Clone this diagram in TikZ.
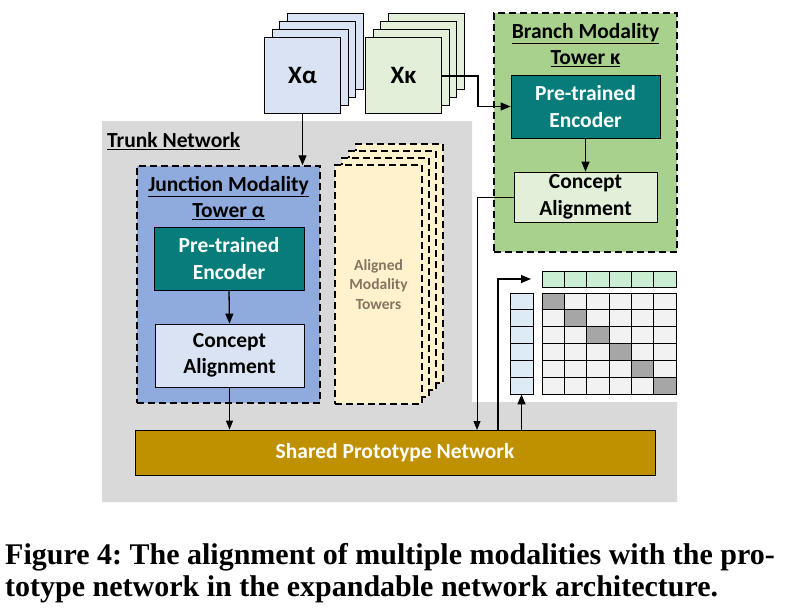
\documentclass[tikz,border=0pt]{standalone}
\usepackage{fontspec}
\setmainfont{Carlito}
\newfontfamily\capfont{Liberation Serif}
\usetikzlibrary{arrows.meta}
\definecolor{trunkgray}{HTML}{D9D9D9}
\definecolor{branchgreen}{HTML}{A9D18E}
\definecolor{teal}{HTML}{067D7B}
\definecolor{lightgreen}{HTML}{E2F0D9}
\definecolor{juncblue}{HTML}{8FAADC}
\definecolor{lightblue}{HTML}{DAE3F3}
\definecolor{paleyellow}{HTML}{FFF2CC}
\definecolor{gold}{HTML}{BF9000}
\definecolor{diagcell}{HTML}{A6A6A6}
\definecolor{plaincell}{HTML}{F2F2F2}
\definecolor{rowgreen}{HTML}{C9EED2}
\definecolor{colblue}{HTML}{DDEBF7}
\definecolor{towertext}{HTML}{857560}
\tikzset{
  box/.style={draw=black, line width=0.8pt, inner sep=0pt, align=center,
    font=\fontsize{21.5}{26.5}\selectfont\bfseries},
  tower/.style={draw=black, line width=1.5pt, dash pattern=on 7pt off 4pt, inner sep=0pt},
  ttl/.style={align=center, inner sep=0pt, font=\fontsize{21.5}{26.5}\selectfont\bfseries},
  stackbox/.style={draw=black, line width=1pt, inner sep=0pt, minimum width=76pt, minimum height=76pt,
    font=\fontsize{25}{26}\selectfont\bfseries},
  cellst/.style={draw=black, line width=0.8pt, inner sep=0pt, minimum width=22.33pt, minimum height=16.83pt},
  arr/.style={line width=1.3pt, -{Triangle[length=10pt,width=8pt]}},
  sarr/.style={line width=1pt, -{Triangle[length=9pt,width=7pt]}},
  ln/.style={line width=1pt},
}
\begin{document}
\begin{tikzpicture}[x=1pt,y=-1pt]
\useasboundingbox (0,0) rectangle (787,613);
\fill[white] (0,0) rectangle (787,613);

% trunk network region
\fill[trunkgray] (102,121) -- (472,121) -- (472,402) -- (677,402) -- (677,502) -- (102,502) -- cycle;
\node[anchor=west, ttl] (trunk) at (107,141) {\underline{Trunk Network}};

% input stacks
\foreach \k in {3,2,1} {
  \node[stackbox, fill=lightblue] (xa\k) at ({302.5+7.5*\k},{75-8*\k}) {};
  \node[stackbox, fill=lightgreen] (xk\k) at ({403.5+7.5*\k},{75-8*\k}) {};
}
\node[stackbox, fill=lightblue] (xa) at (302.5,75) {Xα};
\node[stackbox, fill=lightgreen] (xk) at (403.5,75) {Xκ};

% branch modality tower
\node[tower, fill=branchgreen, minimum width=183pt, minimum height=239pt] (bt) at (585.5,132.5) {};
\node[ttl] (btt) at (585.5,45) {\underline{Branch Modality}\\\underline{Tower κ}};
\node[box, fill=teal, text=white, minimum width=149pt, minimum height=63pt] (encK) at (585.5,106.5) {Pre-trained\\Encoder};
\node[box, fill=lightgreen, minimum width=143pt, minimum height=50pt] (concK) at (585.5,197) {Concept\\Alignment};

% junction modality tower
\node[tower, fill=juncblue, minimum width=183pt, minimum height=237pt] (jt) at (228.5,284.5) {};
\node[ttl] (jtt) at (228.5,198) {\underline{Junction Modality}\\\underline{Tower α}};
\node[box, fill=teal, text=white, minimum width=150pt, minimum height=63pt] (encA) at (229,258.5) {Pre-trained\\Encoder};
\node[box, fill=lightblue, minimum width=149pt, minimum height=63pt] (concA) at (229.5,355.5) {Concept\\Alignment};

% aligned modality towers
\foreach \k in {3,2,1} {
  \node[tower, fill=paleyellow, minimum width=87pt, minimum height=239pt] (am\k) at ({378.5+7*\k},{284.5-7*\k}) {};
}
\node[tower, fill=paleyellow, minimum width=87pt, minimum height=239pt, align=center,
  text=towertext, font=\fontsize{15.5}{19.5}\selectfont\bfseries] (am) at (378.5,284.5) {Aligned\\Modality\\Towers};

% shared prototype network
\node[box, fill=gold, text=white, minimum width=520pt, minimum height=45pt] (spn) at (395,452.5) {Shared Prototype Network};

% matrix
\foreach \j in {1,...,6} {
  \node[cellst, fill=rowgreen, minimum height=16pt] (g-\j) at ({542+(\j-0.5)*22.33},279) {};
}
\foreach \i in {1,...,6} {
  \node[cellst, fill=colblue, minimum width=23pt] (b-\i) at (521.5,{293+(\i-0.5)*16.83}) {};
  \foreach \j in {1,...,6} {
    \ifnum\i=\j \def\cf{diagcell}\else\def\cf{plaincell}\fi
    \node[cellst, fill=\cf] (m-\i-\j) at ({542+(\j-0.5)*22.33},{293+(\i-0.5)*16.83}) {};
  }
}

% connectors
\coordinate (kturn) at (478,76);
\coordinate (spnin) at (477,430);
\coordinate (spnout) at (498,430);
\coordinate (rowtip) at (531,279);
\draw[arr] (xa.south) -- (xa.south |- jt.north);
\draw[arr] (xk.east |- kturn) -- (kturn) |- (encK.west);
\draw[arr] (encK.south) -- (concK.north);
\draw[arr] (encA.south) -- (concA.north);
\draw[sarr] (concA.south) -- (concA.south |- spn.north);
\draw[sarr] (concK.west) -| (spnin);
\draw[arr] (spnout) |- (rowtip);
\draw[arr] (spn.north -| b-6.south) -- (b-6.south);

% caption
\node[anchor=base west, inner sep=0pt, font=\capfont\bfseries\fontsize{30}{32}\selectfont\frenchspacing] (cap1) at (5,564)
  {Figure 4: The alignment of multiple modalities with the pro-};
\node[anchor=base west, inner sep=0pt, font=\capfont\bfseries\fontsize{30}{32}\selectfont\frenchspacing] (cap2) at (5,596)
  {totype network in the expandable network architecture.};
\end{tikzpicture}
\end{document}
